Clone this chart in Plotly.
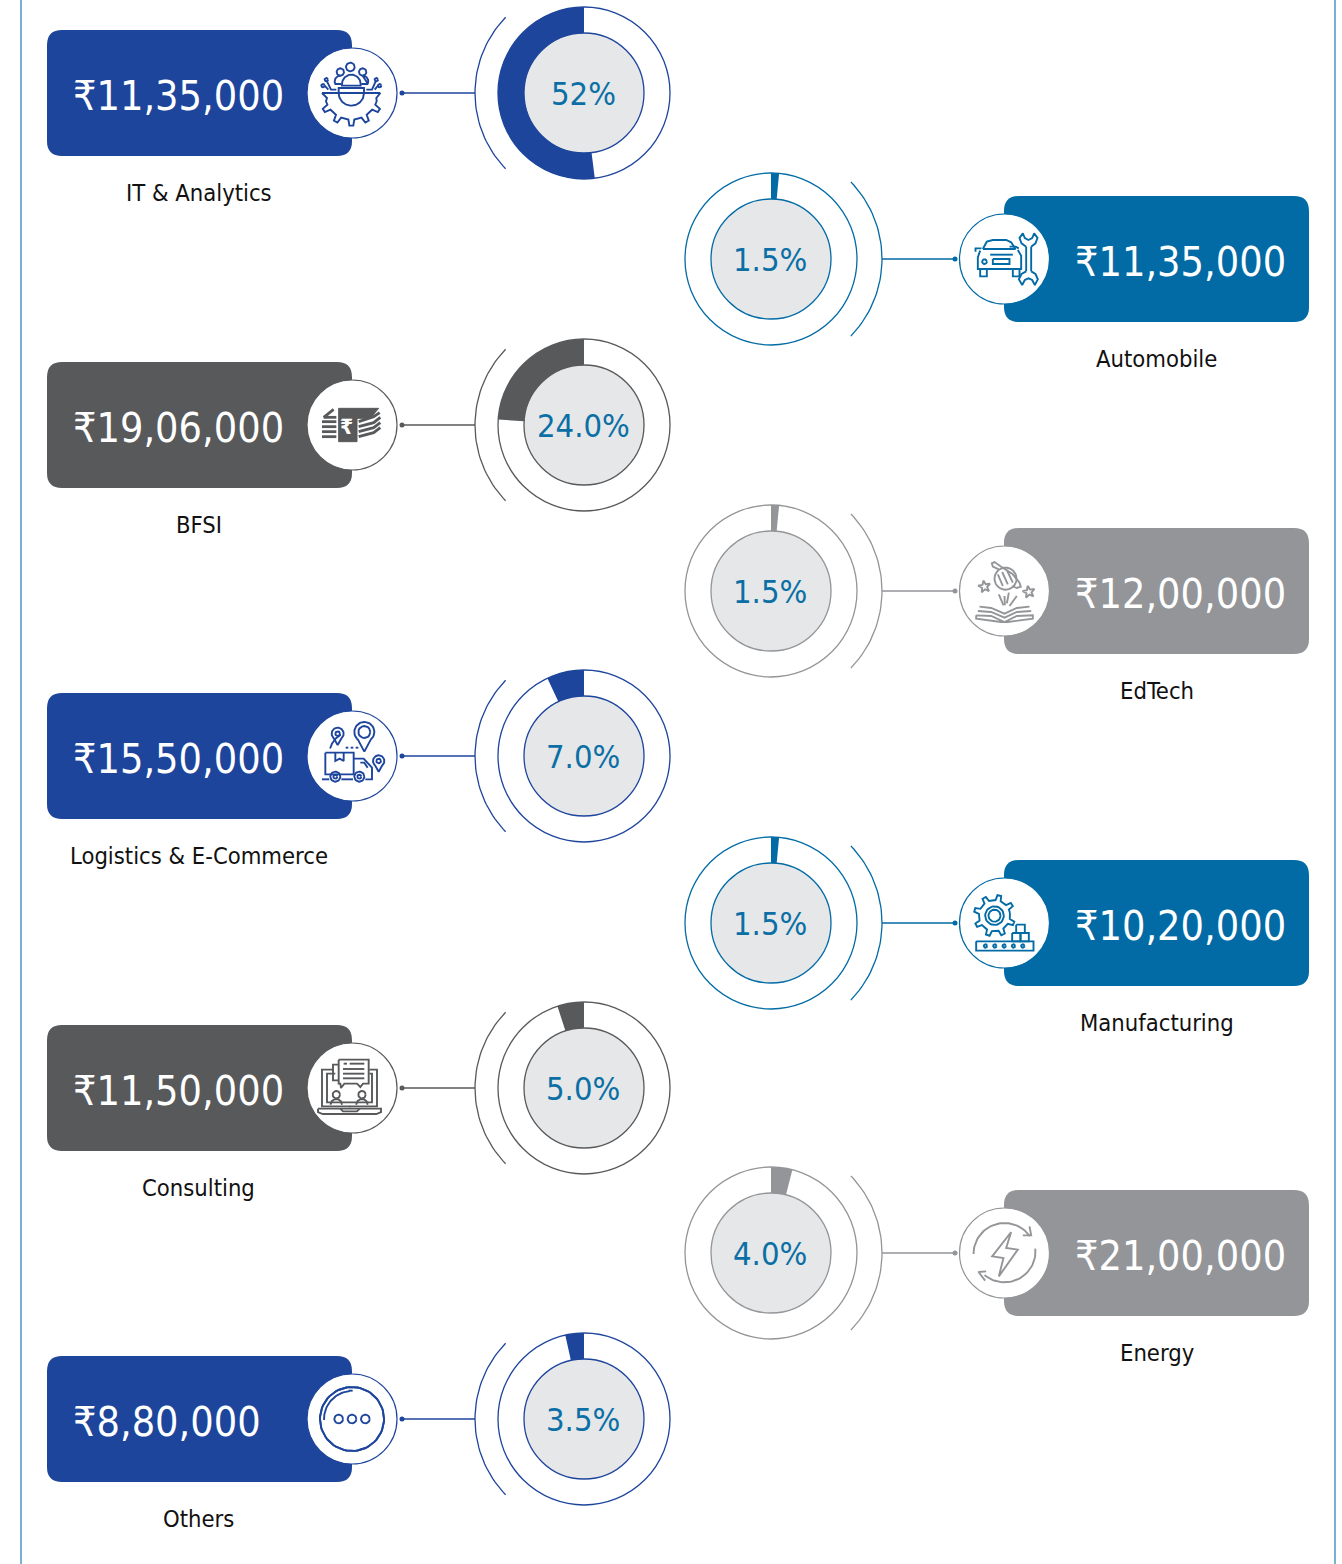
import math
import plotly.graph_objects as go

# ---------- data ----------
categories = ["IT & Analytics", "Automobile", "BFSI", "EdTech", "Logistics & E-Commerce",
              "Manufacturing", "Consulting", "Energy", "Others"]
amounts = ["₹11,35,000", "₹11,35,000", "₹19,06,000", "₹12,00,000", "₹15,50,000",
           "₹10,20,000", "₹11,50,000", "₹21,00,000", "₹8,80,000"]
share_labels = ["52%", "1.5%", "24.0%", "1.5%", "7.0%", "1.5%", "5.0%", "4.0%", "3.5%"]
share_values = [52, 1.5, 24, 1.5, 7, 1.5, 5, 4, 3.5]

# ---------- layout / style ----------
W, H = 1342, 1564
ROW_Y = [93, 259, 425, 591, 756, 923, 1088, 1253, 1419]
BLUE, TEAL, DARK, GREY = "#1d459c", "#026ba5", "#58595b", "#939598"
COLORS = [BLUE, TEAL, DARK, GREY, BLUE, TEAL, DARK, GREY, BLUE]
PCT = "#0b6fa6"
FONT = "DejaVu Sans Condensed, DejaVu Sans, sans-serif"
R_OUT, R_IN, R_ICON = 86, 60, 45
CARD_H, RAD = 126, 15


# ---------- icon drawing helpers (local 0..270 box, centre at 135,135, 3 units = 1 px) ----------
def circ(cx, cy, r, a0=0, a1=360, n=40):
    return [(cx + r * math.cos(math.radians(a0 + (a1 - a0) * i / n)),
             cy - r * math.sin(math.radians(a0 + (a1 - a0) * i / n))) for i in range(n + 1)]


def rect(x0, y0, x1, y1):
    return [(x0, y0), (x1, y0), (x1, y1), (x0, y1), (x0, y0)]


def star(cx, cy, ro, ri):
    pts = []
    for i in range(11):
        a = math.radians(90 + i * 36 + 10)
        r = ro if i % 2 == 0 else ri
        pts.append((cx + r * math.cos(a), cy - r * math.sin(a)))
    return pts


def gear(cx, cy, ro, ri, teeth, a0=0, a1=360):
    pts = []
    step = (a1 - a0) / teeth
    for t in range(teeth):
        b = a0 + t * step
        for f, r in ((0, ri), (0.28, ri), (0.38, ro), (0.62, ro), (0.72, ri), (1, ri)):
            a = math.radians(b + f * step)
            pts.append((cx + r * math.cos(a), cy - r * math.sin(a)))
    return pts


def pin(cx, cy, r, tip, inner):
    arc = circ(cx, cy, r, -50, 230)
    return [arc + [(cx, tip)] + [arc[0]], circ(cx, cy, inner, n=20)]


ICONS = [
    # IT & Analytics
    [circ(130, 57, 13), circ(100, 72, 11), circ(167, 72, 11),
     circ(133, 108, 28, 0, 180) + [(105, 113), (161, 113), (161, 108)],
     circ(100, 100, 17, 90, 200) + [(85, 108), (103, 108)], circ(167, 100, 17, -20, 90) + [(183, 108), (163, 108)],
     circ(58, 95, 5, n=12), circ(48, 113, 5, n=12), circ(208, 95, 5, n=12), circ(218, 113, 5, n=12),
     [(60, 100), (72, 125), (88, 125)], [(53, 113), (64, 125)], [(206, 100), (195, 125), (178, 125)], [(213, 113), (203, 125)],
     [(45, 135), (220, 135)],
     [(45, 135), (60, 150)] + gear(133, 135, 98, 80, 5, 198, 342) + [(208, 150), (220, 135)],
     circ(133, 135, 38, 180, 360), [(95, 135), (95, 120), (171, 120), (171, 135)]],
    # Automobile
    [[(70, 105), (82, 83), (100, 78), (140, 78), (155, 85), (168, 105), (70, 105)],
     [(48, 113), (48, 103), (66, 103)], [(62, 110), (55, 130), (55, 165), (185, 165), (185, 125), (175, 108)],
     circ(75, 143, 7, n=16), rect(100, 135, 150, 150), [(92, 122), (160, 122)],
     rect(62, 165, 82, 187), rect(160, 165, 180, 187), [(150, 98), (168, 98), (178, 103)],
     [(200, 98), (200, 172)], [(215, 98), (215, 172)],
     [(200, 98), (186, 88), (180, 72), (190, 58), (196, 72), (207, 78), (218, 72), (224, 58), (234, 72), (228, 88), (215, 98)],
     [(200, 172), (186, 180), (178, 196), (188, 213), (196, 198), (207, 193), (218, 198), (226, 213), (235, 196), (228, 180), (215, 172)]],
    # BFSI is filled – see below
    [],
    # EdTech
    [circ(138, 98, 33),
     [(118, 70), (100, 62), (97, 52), (105, 48), (125, 62), (160, 85), (180, 110), (184, 122), (172, 126), (158, 120)],
     [(115, 85), (130, 120)], [(128, 78), (145, 115)], [(142, 72), (160, 110)],
     star(75, 122, 19, 8), star(208, 138, 19, 8),
     [(132, 178), (118, 145)], [(142, 172), (148, 140)], [(150, 180), (172, 150)], [(136, 178), (135, 150)],
     [(60, 182), (95, 186), (135, 203), (172, 186), (210, 182)],
     [(55, 195), (95, 198), (135, 215), (172, 198), (215, 195)],
     [(50, 208), (95, 210), (135, 228), (172, 210), (220, 208), (220, 218), (145, 228), (125, 228), (50, 218), (50, 208)]],
    # Logistics
    pin(172, 63, 30, 122, 18) + pin(92, 68, 18, 102, 7) + pin(215, 150, 17, 182, 7) +
    [rect(55, 125, 140, 190), [(85, 125), (85, 150), (98, 143), (110, 150), (110, 125)],
     [(140, 143), (170, 143), (195, 170), (195, 205), (175, 205)], [(160, 155), (172, 155), (182, 170)],
     circ(85, 197, 15), circ(85, 197, 6, n=14), circ(157, 197, 15), circ(157, 197, 6, n=14),
     [(45, 205), (67, 205)], [(103, 205), (138, 205)],
     [(116, 110), (124, 110)], [(131, 110), (139, 110)], [(146, 110), (154, 110)],
     circ(135, 130, 68, 120, 165)],
    # Manufacturing
    [gear(105, 113, 62, 47, 8, 11) + [gear(105, 113, 62, 47, 8, 11)[0]], circ(105, 113, 28), circ(105, 113, 18),
     rect(158, 165, 183, 190), rect(183, 165, 208, 190), rect(170, 140, 196, 165),
     rect(50, 190, 222, 218),
     circ(78, 204, 5, n=12), circ(106, 204, 5, n=12), circ(134, 204, 5, n=12), circ(162, 204, 5, n=12), circ(190, 204, 5, n=12)],
    # Consulting
    [[(78, 80), (45, 80), (45, 190), (210, 190), (210, 80), (187, 80)], [(85, 92), (60, 92), (60, 178), (195, 178), (195, 92), (187, 92)],
     [(33, 197), (222, 197), (222, 207), (208, 213), (47, 213), (33, 207), (33, 197)],
     [(100, 197), (108, 205), (150, 205), (158, 197)],
     [(95, 50), (185, 50), (185, 122), (168, 122), (160, 132), (150, 122), (112, 122), (102, 135), (100, 122), (95, 122), (95, 50)],
     [(95, 65), (78, 65), (78, 112), (95, 112)],
     [(110, 62), (120, 62)], [(128, 62), (172, 62)], [(108, 78), (172, 78)], [(108, 92), (172, 92)], [(108, 106), (172, 106)],
     circ(88, 155, 11, n=20), circ(165, 155, 11, n=20),
     circ(88, 185, 17, 0, 180), circ(165, 185, 17, 0, 180), [(127, 191), (130, 191)]],
    # Energy
    [circ(135, 138, 93, 180, 35), [(190, 82), (215, 82), (210, 55)],
     circ(135, 130, 93, 5, -130), [(80, 190), (57, 192), (77, 218)],
     [(155, 72), (98, 145), (132, 150), (118, 205), (175, 125), (140, 120), (155, 72)]],
    # Others
    [circ(135, 135, 96, n=72), circ(135, 135, 96, n=72), circ(135, 135, 84, 95, 182), [(125, 50), (137, 50)],
     circ(95, 135, 13, n=22), circ(135, 135, 13, n=22), circ(175, 135, 13, n=22)],
]

# BFSI icon (filled stacks of notes)
BFSI_BLOCK = [(95, 85), (215, 85), (190, 115), (150, 115), (150, 185), (95, 185), (95, 85)]
BFSI_STRIPES = [
    [(45, 125), (88, 125)], [(45, 140), (88, 140)], [(45, 155), (88, 155)], [(45, 170), (88, 170)],
    [(155, 125), (200, 110), (218, 98)], [(155, 140), (200, 128), (220, 112)],
    [(155, 155), (200, 143), (220, 128)], [(155, 170), (200, 158), (220, 143)],
    [(50, 112), (80, 88)], [(50, 112), (88, 112)],
]

# ---------- figure ----------
fig = go.Figure()
shapes, annotations = [], []


def add_lines(polys, color, width):
    xs, ys = [], []
    for p in polys:
        xs += [q[0] for q in p] + [None]
        ys += [q[1] for q in p] + [None]
    fig.add_trace(go.Scatter(x=xs, y=ys, mode="lines", line=dict(color=color, width=width),
                             hoverinfo="skip", showlegend=False))


def to_page(poly, cx, cy):
    return [(cx + (px - 135) / 3, cy + (py - 135) / 3) for px, py in poly]


# page edge rules
for ex in (21, 1335):
    shapes.append(dict(type="line", x0=ex, x1=ex, y0=0, y1=H, line=dict(color="#7ab2d6", width=2), layer="below"))

for i, (cat, amt, lab, val, col, y) in enumerate(zip(categories, amounts, share_labels, share_values, COLORS, ROW_Y)):
    left = i % 2 == 0
    x0, x1 = (47, 352) if left else (1004, 1309)
    icon_x = 352 if left else 1004.5
    cx = 584 if left else 771
    ty = y - CARD_H / 2
    by = y + CARD_H / 2
    # card
    shapes.append(dict(type="path", layer="below", fillcolor=col, line=dict(width=0),
                       path=f"M{x0+RAD},{ty} L{x1-RAD},{ty} Q{x1},{ty} {x1},{ty+RAD} L{x1},{by-RAD} Q{x1},{by} {x1-RAD},{by} "
                            f"L{x0+RAD},{by} Q{x0},{by} {x0},{by-RAD} L{x0},{ty+RAD} Q{x0},{ty} {x0+RAD},{ty} Z"))
    # icon disc
    shapes.append(dict(type="circle", layer="below", x0=icon_x - R_ICON, x1=icon_x + R_ICON,
                       y0=y - R_ICON, y1=y + R_ICON, fillcolor="white", line=dict(color=col, width=1.2)))
    # donut rings
    shapes.append(dict(type="circle", layer="below", x0=cx - R_OUT, x1=cx + R_OUT, y0=y - R_OUT, y1=y + R_OUT,
                       fillcolor="white", line=dict(color=col, width=1.3)))
    shapes.append(dict(type="circle", layer="below", x0=cx - R_IN, x1=cx + R_IN, y0=y - R_IN, y1=y + R_IN,
                       fillcolor="#e6e7e8", line=dict(color=col, width=1.3)))
    # wedge: left-column wedges end at 12 o'clock, right-column wedges start there
    values = [100 - val, val] if left else [val, 100 - val]
    colors = ["rgba(0,0,0,0)", col] if left else [col, "rgba(0,0,0,0)"]
    fig.add_trace(go.Pie(values=values, marker=dict(colors=colors, line=dict(width=0)),
                         hole=R_IN / R_OUT, sort=False, rotation=0, direction="clockwise",
                         textinfo="none", hoverinfo="skip", showlegend=False,
                         domain=dict(x=[(cx - R_OUT) / W, (cx + R_OUT) / W],
                                     y=[1 - (y + R_OUT) / H, 1 - (y - R_OUT) / H])))
    # outer arc and connector
    side = 180 if left else 0
    r_arc = 109 if left else 111
    arc = [(cx + r_arc * math.cos(math.radians(side - 44 + 88 * k / 40)),
            y - r_arc * math.sin(math.radians(side - 44 + 88 * k / 40))) for k in range(41)]
    add_lines([arc], col, 1.3)
    a, b = (402, 475) if left else (882, 955)
    add_lines([[(a, y), (b, y)]], col, 1.3)
    dot = a if left else b
    fig.add_trace(go.Scatter(x=[dot], y=[y], mode="markers", marker=dict(color=col, size=5),
                             hoverinfo="skip", showlegend=False))
    # icon
    if cat == "BFSI":
        fig.add_trace(go.Scatter(x=[q[0] for q in to_page(BFSI_BLOCK, icon_x, y)],
                                 y=[q[1] for q in to_page(BFSI_BLOCK, icon_x, y)], mode="lines", fill="toself",
                                 fillcolor=col, line=dict(color=col, width=1), hoverinfo="skip", showlegend=False))
        add_lines([to_page(p, icon_x, y) for p in BFSI_STRIPES], col, 2.8)
        annotations.append(dict(x=icon_x - 6, y=y + 2, text="<b>₹</b>", showarrow=False, xref="x", yref="y",
                                font=dict(family=FONT, size=21, color="white")))
    else:
        add_lines([to_page(p, icon_x, y) for p in ICONS[i]], col, 1.9)
    # texts
    annotations.append(dict(x=71 if left else 1073, y=y + 3, text=amt, showarrow=False, xanchor="left",
                            xref="x", yref="y", font=dict(family=FONT, size=41, color="white")))
    annotations.append(dict(x=cx - 1, y=y + 1, text=lab, showarrow=False, xref="x", yref="y",
                            font=dict(family=FONT, size=32.5, color=PCT)))
    annotations.append(dict(x=(x0 + x1) / 2 - (1 if left else 0), y=y + 99.5, text=cat, showarrow=False,
                            xref="x", yref="y", font=dict(family=FONT, size=23.6, color="#111111")))

fig.update_layout(
    width=W, height=H, margin=dict(l=0, r=0, t=0, b=0), autosize=False,
    paper_bgcolor="white", plot_bgcolor="white", showlegend=False,
    xaxis=dict(range=[0, W], visible=False, domain=[0, 1], fixedrange=True),
    yaxis=dict(range=[H, 0], visible=False, domain=[0, 1], fixedrange=True),
    shapes=shapes, annotations=annotations,
)
fig.write_html("out.html", config=dict(displayModeBar=False),
               post_script="document.body.style.margin='0';document.body.style.overflow='hidden';")
